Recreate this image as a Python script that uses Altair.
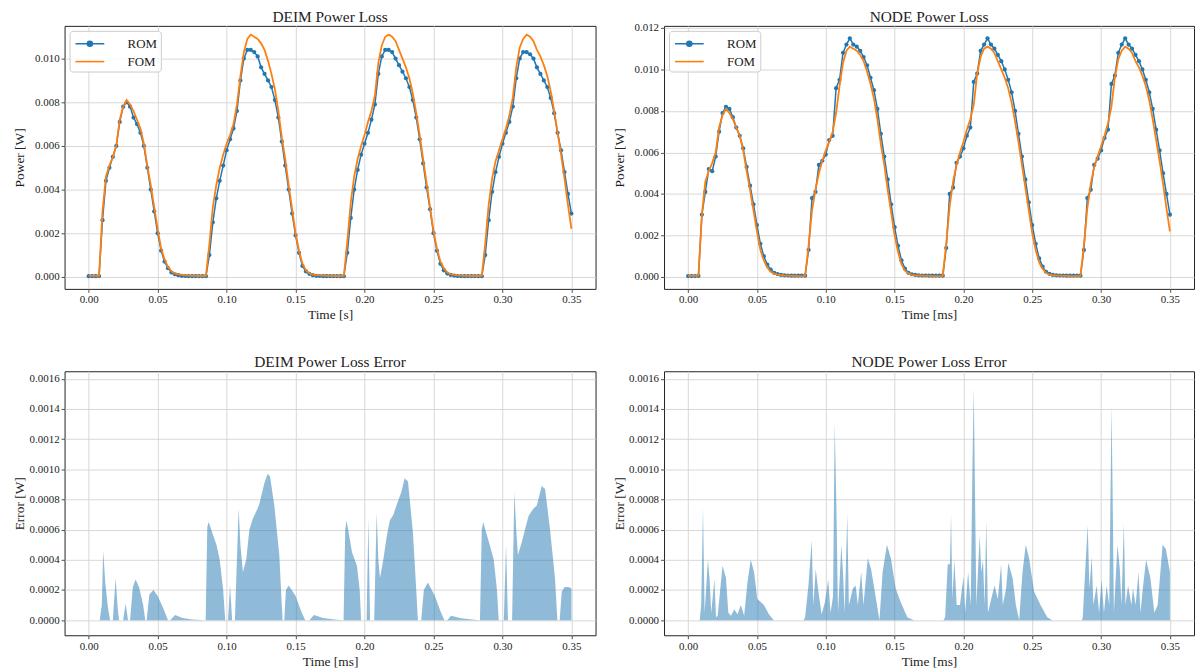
import altair as alt
import pandas as pd

FONT = "Liberation Serif"
BLUE = "#1f77b4"
ORANGE = "#ff7f0e"

# time grid of the power curves (s), step 0.0025
time_s = [round(i * 0.0025, 4) for i in range(141)]

fom_power = [
    # cycle 1 (0 .. 0.0825)
    0.00005, 0.00005, 0.00005, 0.00005, 0.0030, 0.0046, 0.0051, 0.0055, 0.0060, 0.0072,
    0.0078, 0.0081, 0.0079, 0.0076, 0.0072, 0.0068, 0.0061, 0.0051, 0.0042, 0.0032,
    0.0022, 0.0013, 0.0008, 0.00045, 0.00025, 0.00016, 0.00011, 0.00009, 0.00007, 0.00006,
    0.00005, 0.00005, 0.00004, 0.00004,
    # cycle 2 (0.085 .. 0.1825)
    0.00005, 0.0015, 0.0032, 0.0042, 0.0050, 0.0056, 0.0061, 0.0065, 0.0070, 0.0079,
    0.0092, 0.0103, 0.0109, 0.0111, 0.0110, 0.0109, 0.0107, 0.0104, 0.0099, 0.0093,
    0.0086, 0.0076, 0.0064, 0.0054, 0.0042, 0.0031, 0.0020, 0.0012, 0.0006, 0.0003,
    0.00017, 0.0001, 0.00008, 0.00007, 0.00006, 0.00005, 0.00005, 0.00004, 0.00004, 0.00004,
    # cycle 3 (0.185 .. 0.2825)
    0.00005, 0.0016, 0.0034, 0.0046, 0.0054, 0.0060, 0.0065, 0.0071, 0.0076, 0.0083,
    0.0098, 0.0106, 0.0110, 0.0111, 0.0110, 0.0108, 0.0104, 0.0100, 0.0096, 0.0091,
    0.0084, 0.0075, 0.0065, 0.0054, 0.0043, 0.0032, 0.0021, 0.0013, 0.0007, 0.0004,
    0.0002, 0.00012, 0.00009, 0.00007, 0.00006, 0.00005, 0.00005, 0.00004, 0.00004, 0.00004,
    # cycle 4 (0.285 .. 0.35)
    0.00005, 0.0015, 0.0033, 0.0045, 0.0053, 0.0058, 0.0063, 0.0068, 0.0074, 0.0082,
    0.0096, 0.0105, 0.0109, 0.0111, 0.0110, 0.0108, 0.0104, 0.0101, 0.0097, 0.0092,
    0.0085, 0.0076, 0.0066, 0.0056, 0.0045, 0.0033, 0.0022,
]

deim_rom_power = [
    0.00003, 0.00003, 0.00003, 0.00004, 0.0026, 0.0044, 0.0050, 0.0055, 0.0060, 0.0071,
    0.0078, 0.0080, 0.0078, 0.0073, 0.0070, 0.0066, 0.0060, 0.0050, 0.0040, 0.0030,
    0.0020, 0.0012, 0.0007, 0.0004, 0.0002, 0.00012, 0.00008, 0.00005, 0.00004, 0.00003,
    0.00003, 0.00003, 0.00003, 0.00003,
    0.00003, 0.0010, 0.0025, 0.0036, 0.0044, 0.0051, 0.0058, 0.0063, 0.0068, 0.0076,
    0.0090, 0.0100, 0.0104, 0.0104, 0.0103, 0.0101, 0.0096, 0.0093, 0.0090, 0.0087,
    0.0081, 0.0073, 0.0062, 0.0051, 0.0040, 0.0029, 0.0019, 0.0011, 0.0005, 0.00025,
    0.00014, 0.00008, 0.00005, 0.00004, 0.00003, 0.00003, 0.00003, 0.00003, 0.00003, 0.00003,
    0.00003, 0.0011, 0.0027, 0.0040, 0.0049, 0.0056, 0.0061, 0.0066, 0.0072, 0.0079,
    0.0093, 0.0101, 0.0104, 0.0104, 0.0103, 0.0100, 0.0097, 0.0094, 0.0091, 0.0087,
    0.0081, 0.0073, 0.0063, 0.0052, 0.0041, 0.0031, 0.0020, 0.0012, 0.0006, 0.0003,
    0.00015, 0.00009, 0.00006, 0.00004, 0.00003, 0.00003, 0.00003, 0.00003, 0.00003, 0.00003,
    0.00003, 0.0010, 0.0026, 0.0039, 0.0048, 0.0055, 0.0061, 0.0066, 0.0071, 0.0078,
    0.0091, 0.0100, 0.0103, 0.0103, 0.0102, 0.0100, 0.0096, 0.0093, 0.0090, 0.0087,
    0.0082, 0.0075, 0.0066, 0.0058, 0.0048, 0.0038, 0.0029,
]

node_rom_power = [
    0.00004, 0.00004, 0.00004, 0.00005, 0.0030, 0.0041, 0.0052, 0.0051, 0.0058, 0.0070,
    0.0079, 0.0082, 0.0081, 0.0077, 0.0072, 0.0068, 0.0062, 0.0053, 0.0044, 0.0035,
    0.0025, 0.0016, 0.0010, 0.0006, 0.00035, 0.0002, 0.00014, 0.0001, 0.00008, 0.00007,
    0.00006, 0.00006, 0.00006, 0.00006,
    0.00006, 0.0013, 0.0038, 0.0041, 0.0054, 0.0056, 0.0059, 0.0066, 0.0068, 0.0091,
    0.0095, 0.0108, 0.0112, 0.0115, 0.0112, 0.0111, 0.0109, 0.0106, 0.0102, 0.0096,
    0.0090, 0.0081, 0.0069, 0.0058, 0.0047, 0.0035, 0.0024, 0.0015, 0.0008, 0.0004,
    0.0002, 0.00013, 0.0001, 0.00008, 0.00007, 0.00007, 0.00006, 0.00006, 0.00006, 0.00006,
    0.00006, 0.0014, 0.0040, 0.0043, 0.0055, 0.0058, 0.0062, 0.0068, 0.0072, 0.0094,
    0.0098, 0.0109, 0.0112, 0.0115, 0.0112, 0.0110, 0.0107, 0.0104, 0.0100, 0.0095,
    0.0089, 0.0080, 0.0069, 0.0058, 0.0047, 0.0036, 0.0025, 0.0016, 0.0009, 0.0005,
    0.00025, 0.00015, 0.0001, 0.00008, 0.00007, 0.00007, 0.00006, 0.00006, 0.00006, 0.00006,
    0.00006, 0.0013, 0.0038, 0.0042, 0.0054, 0.0057, 0.0061, 0.0067, 0.0071, 0.0093,
    0.0097, 0.0108, 0.0112, 0.0115, 0.0112, 0.0110, 0.0107, 0.0104, 0.0100, 0.0095,
    0.0089, 0.0081, 0.0071, 0.0061, 0.0050, 0.0040, 0.0030,
]

# error breakpoints (time in ms axis units, error in W)
deim_err_t = [
    0.0080, 0.0095, 0.0105, 0.0120, 0.0140, 0.0155, 0.0175, 0.0195, 0.0210, 0.0220,
    0.0250, 0.0268, 0.0285, 0.0300, 0.0320, 0.0340, 0.0365, 0.0395, 0.0410, 0.0420,
    0.0440, 0.0470, 0.0500, 0.0540, 0.0575, 0.0590, 0.0627, 0.0680, 0.0750, 0.0840,
    0.0848, 0.0860, 0.0870, 0.0900, 0.0926, 0.0950, 0.0975, 0.0990, 0.1010, 0.1025,
    0.1040, 0.1060, 0.1087, 0.1100, 0.1118, 0.1142, 0.1165, 0.1189, 0.1225, 0.1240,
    0.1274, 0.1298, 0.1315, 0.1346, 0.1382, 0.1400, 0.1406, 0.1418, 0.1430, 0.1450,
    0.1500, 0.1540, 0.1570, 0.1600, 0.1633, 0.1700, 0.1780, 0.1845,
    0.1848, 0.1860, 0.1870, 0.1909, 0.1945, 0.1965, 0.1975, 0.2015, 0.2028, 0.2040,
    0.2070, 0.2088, 0.2100, 0.2112, 0.2136, 0.2160, 0.2183, 0.2210, 0.2231, 0.2267,
    0.2291, 0.2315, 0.2351, 0.2375, 0.2387, 0.2411, 0.2430, 0.2459, 0.2510, 0.2550,
    0.2579, 0.2600, 0.2627, 0.2700, 0.2830,
    0.2837, 0.2850, 0.2860, 0.2901, 0.2937, 0.2960, 0.2973, 0.3010, 0.3026, 0.3040,
    0.3070, 0.3086, 0.3100, 0.3112, 0.3141, 0.3189, 0.3225, 0.3249, 0.3285, 0.3309,
    0.3345, 0.3381, 0.3398, 0.3415, 0.3430, 0.3452, 0.3480, 0.3500,
]
deim_err_v = [
    0.0, 0.0001, 0.00046, 0.00025, 0.00008, 0.0, 0.0, 0.00028, 0.00008, 0.0,
    0.0, 0.00011, 0.0, 0.0, 0.00022, 0.00027, 0.00022, 0.0001, 0.0, 0.0,
    0.00017, 0.0002, 0.00016, 0.00008, 0.0, 0.0, 0.000035, 0.000015, 0.000005, 0.0,
    0.0, 0.00062, 0.00065, 0.00057, 0.0005, 0.0004, 0.0002, 0.0, 0.0, 0.00023,
    0.0, 0.0, 0.00074, 0.0005, 0.00032, 0.0004, 0.0006, 0.00067, 0.00074, 0.00078,
    0.00091, 0.00097, 0.00095, 0.00076, 0.00043, 0.0001, 0.0, 0.0, 0.0002, 0.00023,
    0.00016, 0.00006, 0.0, 0.0, 0.000035, 0.000015, 0.000005, 0.0,
    0.0, 0.0006, 0.00066, 0.00045, 0.00036, 0.0002, 0.0, 0.0, 0.00067, 0.0,
    0.0, 0.00071, 0.0004, 0.00028, 0.0004, 0.00055, 0.00066, 0.0007, 0.00076, 0.00085,
    0.00094, 0.00092, 0.00058, 0.0002, 0.0, 0.0, 0.0002, 0.00025, 0.00016, 0.00006,
    0.0, 0.0, 0.00003, 0.000012, 0.0,
    0.0, 0.0006, 0.00065, 0.00052, 0.0004, 0.0002, 0.0, 0.0, 0.0005, 0.0,
    0.0, 0.00085, 0.0006, 0.00043, 0.00052, 0.00069, 0.00074, 0.00076, 0.00089, 0.00087,
    0.0006, 0.00028, 0.0, 0.0, 0.00019, 0.00022, 0.00022, 0.00021,
]

node_err_t = [
    0.0084, 0.0095, 0.0108, 0.0120, 0.0144, 0.0156, 0.0168, 0.0191, 0.0203, 0.0215,
    0.0250, 0.0275, 0.0292, 0.0311, 0.0335, 0.0359, 0.0383, 0.0407, 0.0431, 0.0455,
    0.0479, 0.0503, 0.0551, 0.0587, 0.0622, 0.0838,
    0.0850, 0.0874, 0.0898, 0.0910, 0.0927, 0.0946, 0.0970, 0.0994, 0.1018, 0.1035,
    0.1053, 0.1065, 0.1077, 0.1089, 0.1113, 0.1125, 0.1137, 0.1156, 0.1168, 0.1197,
    0.1217, 0.1233, 0.1257, 0.1274, 0.1305, 0.1329, 0.1365, 0.1390, 0.1413, 0.1444,
    0.1473, 0.1508, 0.1544, 0.1592, 0.1640, 0.1855,
    0.1867, 0.1886, 0.1902, 0.1910, 0.1920, 0.1934, 0.1951, 0.1975, 0.2000, 0.2012,
    0.2034, 0.2053, 0.2065, 0.2075, 0.2082, 0.2094, 0.2118, 0.2130, 0.2142, 0.2154,
    0.2166, 0.2178, 0.2202, 0.2226, 0.2250, 0.2274, 0.2286, 0.2310, 0.2326, 0.2357,
    0.2381, 0.2405, 0.2429, 0.2453, 0.2477, 0.2513, 0.2560, 0.2609, 0.2645, 0.2860,
    0.2867, 0.2884, 0.2903, 0.2915, 0.2932, 0.2944, 0.2968, 0.2985, 0.3004, 0.3021,
    0.3040, 0.3059, 0.3076, 0.3083, 0.3093, 0.3119, 0.3136, 0.3148, 0.3165, 0.3177,
    0.3196, 0.3220, 0.3232, 0.3251, 0.3272, 0.3286, 0.3303, 0.3327, 0.3358, 0.3387,
    0.3411, 0.3447, 0.3471, 0.3500,
]
node_err_v = [
    0.0, 0.0001, 0.00074, 0.00005, 0.0004, 0.00027, 0.00005, 0.00027, 0.00002, 0.00003,
    0.00036, 0.00028, 0.00005, 0.00003, 0.00007, 0.00004, 0.0001, 0.00003, 0.00025, 0.0004,
    0.00032, 0.00014, 0.0001, 0.00004, 0.0, 0.0,
    0.00002, 0.00023, 0.00053, 0.0001, 0.00034, 0.00019, 0.00004, 0.00012, 0.00027, 0.00005,
    0.00016, 0.00131, 0.00076, 0.00005, 0.0005, 0.00032, 0.00005, 0.0007, 0.0001, 0.00021,
    0.00023, 0.0001, 0.00032, 0.0001, 0.00041, 0.00034, 0.00014, 0.0, 0.00032, 0.0005,
    0.00041, 0.00021, 0.00012, 0.00002, 0.0, 0.0,
    0.00002, 0.00037, 0.00037, 0.0007, 0.00014, 0.0004, 0.0001, 0.0001, 0.00029, 0.00005,
    0.00032, 0.0001, 0.001, 0.00154, 0.001, 0.0001, 0.00056, 0.00032, 0.0004, 0.0001,
    0.00066, 0.00005, 0.00014, 0.00023, 0.00014, 0.00037, 0.0001, 0.00021, 0.00038, 0.00028,
    0.0001, 0.0, 0.00032, 0.0005, 0.00041, 0.00019, 0.0001, 0.00002, 0.0, 0.0,
    0.00002, 0.00032, 0.00063, 0.00021, 0.00042, 0.0001, 0.00023, 0.00005, 0.00027, 0.00005,
    0.00023, 0.0001, 0.00142, 0.0009, 0.00005, 0.0005, 0.00034, 0.0001, 0.00064, 0.0001,
    0.00023, 0.0001, 0.00021, 0.0001, 0.00032, 0.00005, 0.00021, 0.0004, 0.00028, 0.00005,
    0.0001, 0.0005, 0.00047, 0.00032,
]

x_ticks = [0.0, 0.05, 0.10, 0.15, 0.20, 0.25, 0.30, 0.35]
deim_y_ticks = [0.0, 0.002, 0.004, 0.006, 0.008, 0.010]
node_y_ticks = [0.0, 0.002, 0.004, 0.006, 0.008, 0.010, 0.012]
err_y_ticks = [0.0, 0.0002, 0.0004, 0.0006, 0.0008, 0.0010, 0.0012, 0.0014, 0.0016]

X_DOMAIN = [-0.0175, 0.3675]
ROM_SYMBOL = "M-1.61,0L1.61,0M-0.28,0A0.28,0.28,0,1,1,0.28,0A0.28,0.28,0,1,1,-0.28,0Z"
FOM_SYMBOL = "M-1.61,0L1.61,0"
W_L, W_R, H = 535, 534, 265


def xenc(title):
    return alt.X("t:Q", scale=alt.Scale(domain=X_DOMAIN, nice=False, zero=False),
                 axis=alt.Axis(values=x_ticks, format=".2f", title=title, labelFlush=False,
                               labelPadding=1.5, titlePadding=3))


def power_panel(title, rom, ydomain, yticks, xtitle, width, title_offset):
    df = pd.DataFrame({"t": time_s * 2, "v": list(rom) + list(fom_power),
                       "series": ["ROM"] * len(rom) + ["FOM"] * len(fom_power)})
    legend = alt.Legend(
        title=None, orient="top-left", offset=5, padding=3,
        fillColor="rgba(255,255,255,0.85)", strokeColor="#cccccc",
        cornerRadius=3, labelFont=FONT, labelFontSize=13, labelColor="#222",
        symbolSize=324, symbolStrokeWidth=1.6, rowPadding=1, labelOffset=28,
        symbolOffset=7.5, columnPadding=0,
    )
    color = alt.Color("series:N", scale=alt.Scale(domain=["ROM", "FOM"], range=[BLUE, ORANGE]),
                      legend=legend)
    shape = alt.Shape("series:N", scale=alt.Scale(domain=["ROM", "FOM"], range=[ROM_SYMBOL, FOM_SYMBOL]),
                      legend=legend)
    yaxis = alt.Axis(values=yticks, format=".3f", title="Power [W]",
                     minExtent=34, maxExtent=34, titlePadding=4)
    yscale = alt.Scale(domain=ydomain, nice=False, zero=False)
    y = alt.Y("v:Q", scale=yscale, axis=yaxis)
    base = alt.Chart(df)
    rom_line = base.transform_filter("datum.series == 'ROM'").mark_line(strokeWidth=1.5).encode(
        x=xenc(xtitle), y=y, color=color)
    rom_pts = base.transform_filter("datum.series == 'ROM'").mark_circle(
        size=18, opacity=1).encode(x=xenc(xtitle), y=y, color=color)
    fom_line = base.transform_filter("datum.series == 'FOM'").mark_line(strokeWidth=1.8).encode(
        x=xenc(xtitle), y=y, color=color)
    # legend-only layer: its y is null, so it draws nothing but supplies the legend symbols
    legend_layer = base.transform_calculate(ghost="null").mark_point(filled=True).encode(
        x=xenc(xtitle), y=alt.Y("ghost:Q", scale=yscale, axis=yaxis), color=color, shape=shape)
    return alt.layer(rom_line, rom_pts, fom_line, legend_layer).properties(
        width=width, height=H, title=alt.TitleParams(text=title, offset=title_offset))


def error_panel(title, tt, vv, width):
    df = pd.DataFrame({"t": tt, "v": vv})
    y = alt.Y("v:Q", stack=None, scale=alt.Scale(domain=[-0.0001, 0.00165], nice=False, zero=False),
              axis=alt.Axis(values=err_y_ticks, format=".4f", title="Error [W]",
                            minExtent=34, maxExtent=34, titlePadding=4))
    return alt.Chart(df).mark_area(color=BLUE, opacity=0.5).encode(
        x=xenc("Time [ms]"), y=y, y2=alt.datum(0)
    ).properties(width=width, height=H + 1, title=alt.TitleParams(text=title, offset=1))


p1 = power_panel("DEIM Power Loss", deim_rom_power, [-0.00055, 0.0115], deim_y_ticks,
                 "Time [s]", W_L, 0)
p2 = power_panel("NODE Power Loss", node_rom_power, [-0.000575, 0.0121], node_y_ticks,
                 "Time [ms]", W_R, -3.2)
p3 = error_panel("DEIM Power Loss Error", deim_err_t, deim_err_v, W_L)
p4 = error_panel("NODE Power Loss Error", node_err_t, node_err_v, W_R)

top = alt.hconcat(p1, p2, spacing=15).resolve_scale(color="independent", shape="independent")
bottom = alt.hconcat(p3, p4, spacing=15)

chart = alt.vconcat(top, bottom, spacing=33).properties(
    padding={"left": 4, "top": -1.5, "right": 0, "bottom": 0}
).configure(
    font=FONT
).configure_view(
    stroke="#222", strokeWidth=1
).configure_axis(
    grid=True, gridColor="#d3d3d3", gridWidth=0.9, domain=False,
    tickColor="#222", tickSize=3.5, tickWidth=0.8,
    labelFont=FONT, titleFont=FONT, labelFontSize=11, titleFontSize=13.5,
    labelColor="#222", titleColor="#222", titleFontWeight="normal"
).configure_title(
    font=FONT, fontSize=15.5, fontWeight="normal", color="#222"
)

chart.save("out.html", embed_options={"renderer": "svg", "actions": False})
